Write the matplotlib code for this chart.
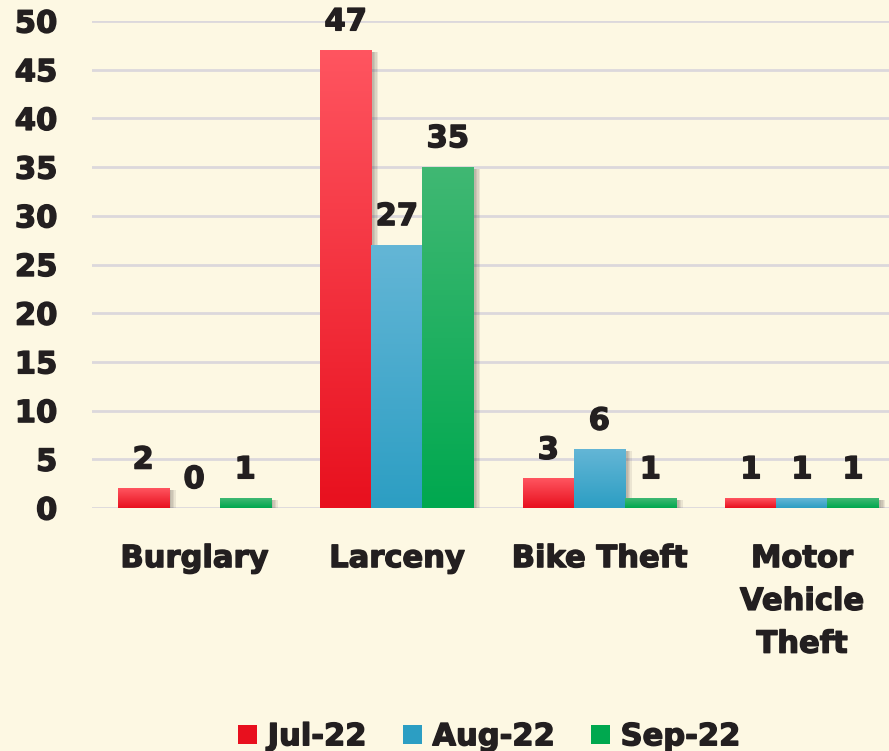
import numpy as np
import matplotlib.pyplot as plt
import matplotlib.patheffects as pe
from matplotlib.colors import LinearSegmentedColormap
from matplotlib.patches import Patch

plt.rcParams['font.family'] = ['DejaVu Sans']
plt.rcParams['font.weight'] = 'bold'

# Daten
kategorien = ['Burglary', 'Larceny', 'Bike Theft', 'Motor\nVehicle\nTheft']
monate = ['Jul-22', 'Aug-22', 'Sep-22']
jul = [2, 47, 3, 1]
aug = [0, 27, 6, 1]
sep = [1, 35, 1, 1]
werte = [jul, aug, sep]

# Farbverlauf oben -> unten
farben = [('#FF5560', '#E8101E'), ('#64B6D6', '#2C9EC3'), ('#40B873', '#00A84F')]
bg = '#FDF8E3'
txt = '#231F20'
fett = [pe.withStroke(linewidth=1.0, foreground=txt)]
fs = 22

fig = plt.figure(figsize=(8.89, 7.51), dpi=100, facecolor=bg)
ax = fig.add_axes([0.1035, 0.3236, 0.8965, 0.6484])
ax.set_facecolor(bg)

x = np.arange(len(kategorien))
breite = 0.252
grad = np.linspace(0, 1, 256).reshape(-1, 1)

# weicher Schatten rechts
schatten = [pe.SimplePatchShadow(offset=(d, -1), shadow_rgbFace='#3a3030', alpha=0.09) for d in (5, 4, 3, 2)]

for i, serie in enumerate(werte):
    pos = x + (i - 1) * breite
    cmap = LinearSegmentedColormap.from_list('g%d' % i, [farben[i][1], farben[i][0]])
    bars = ax.bar(pos, serie, width=breite, color=farben[i][1], zorder=3,
                  path_effects=schatten + [pe.Normal()])
    for b, v in zip(bars, serie):
        if v > 0:
            x0 = b.get_x()
            ax.imshow(grad, extent=(x0, x0 + breite, 0, v), origin='lower', aspect='auto',
                      cmap=cmap, zorder=4)
        ax.annotate(str(v), (b.get_x() + breite / 2, v), xytext=(0, 10), textcoords='offset points',
                    ha='center', va='bottom', fontsize=fs, fontweight='bold', color=txt,
                    annotation_clip=False, zorder=5, path_effects=fett)

ax.set_xlim(-0.504, 3.43)
ax.set_ylim(0, 50)
ax.set_yticks(range(0, 51, 5))
ax.set_xticks(x)
ax.set_xticklabels(kategorien, fontsize=fs, fontweight='bold', color=txt, linespacing=1.6)
ax.tick_params(axis='y', labelsize=fs, colors=txt, length=0, pad=25)
ax.tick_params(axis='x', length=0, pad=26)
for lab in ax.get_yticklabels() + ax.get_xticklabels():
    lab.set_fontweight('bold')
    lab.set_path_effects(fett)
ax.grid(axis='y', color='#DCD8DC', linewidth=2, zorder=0)
for s in ax.spines.values():
    s.set_visible(False)

handles = [Patch(facecolor=farben[i][1], edgecolor='none') for i in range(3)]
leg = fig.legend(handles, monate, loc='lower center', bbox_to_anchor=(0.55, -0.037), ncol=3, frameon=False,
                 prop={'size': fs, 'weight': 'bold'}, handlelength=0.62, handleheight=0.62,
                 handletextpad=0.35, columnspacing=1.2)
for t in leg.get_texts():
    t.set_color(txt)
    t.set_path_effects(fett)

plt.savefig('out.png', dpi=100, facecolor=bg)
